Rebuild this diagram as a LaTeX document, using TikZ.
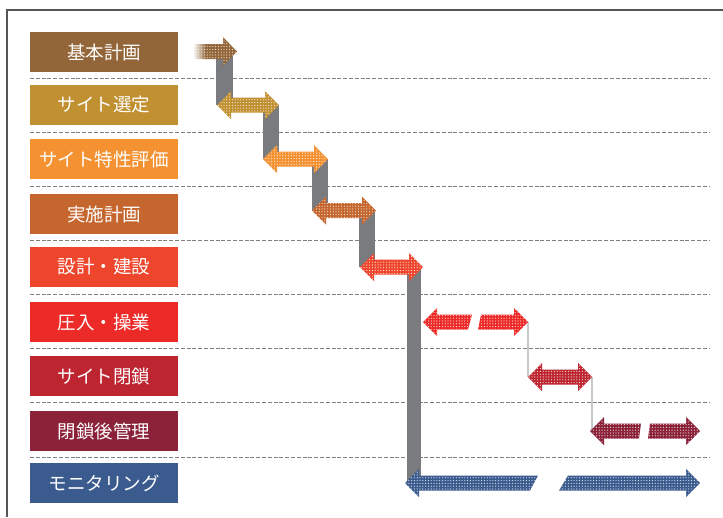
\documentclass[tikz,border=0pt]{standalone}
\usepackage{fontspec}
\newfontfamily\jp{Noto Sans CJK JP}
\usetikzlibrary{patterns.meta,fadings}
\definecolor{c1}{HTML}{93663A}
\definecolor{c2}{HTML}{C09031}
\definecolor{c3}{HTML}{F49131}
\definecolor{c4}{HTML}{C4662E}
\definecolor{c5}{HTML}{EE462D}
\definecolor{c6}{HTML}{EC2A28}
\definecolor{c7}{HTML}{BD2530}
\definecolor{c8}{HTML}{8B2239}
\definecolor{c9}{HTML}{3B5B8F}
\definecolor{band}{HTML}{7A7B7F}
\definecolor{thin}{HTML}{C8C8C8}
\definecolor{frame}{HTML}{555555}
\definecolor{dash}{HTML}{7F7F7F}
\tikzset{
  lab/.style={fill=#1, minimum width=148pt, minimum height=40pt, inner sep=0pt,
    text=white, font=\jp\fontsize{18.5}{18.5}\selectfont},
  arr/.style={fill=#1, postaction={pattern={Dots[distance=2.8pt,radius=0.6pt]}, pattern color=white!85!#1}},
  rowline/.style={draw=dash, line width=0.9pt, dash pattern=on 4pt off 1.8pt},
  bandfill/.style={fill=band},
  thinline/.style={draw=thin, line width=2.5pt},
}
\newcommand\dblarr[4]{%
  \path[arr=#4] (#1,#3) -- (#1+14,#3-14) -- (#1+14,#3-7.5) -- (#2-14,#3-7.5) -- (#2-14,#3-14) -- (#2,#3)
   -- (#2-14,#3+14) -- (#2-14,#3+7.5) -- (#1+14,#3+7.5) -- (#1+14,#3+14) -- cycle;}
\newcommand\leftpart[5]{%
  \path[arr=#5] (#1,#4) -- (#1+14,#4-14) -- (#1+14,#4-7.5) -- (#2,#4-7.5) -- (#3,#4+7.5)
   -- (#1+14,#4+7.5) -- (#1+14,#4+14) -- cycle;}
\newcommand\rightpart[5]{%
  \path[arr=#5] (#1,#4-7.5) -- (#3-14,#4-7.5) -- (#3-14,#4-14) -- (#3,#4) -- (#3-14,#4+14)
   -- (#3-14,#4+7.5) -- (#2,#4+7.5) -- cycle;}
\begin{document}
\begin{tikzpicture}[x=1pt,y=-1pt]
\useasboundingbox (0,0) rectangle (723,517);
\fill[white] (0,0) rectangle (723,517);
% row separators
\foreach \yy in {78,132,186,240,294,348,402,457}
  \draw[rowline] (30,\yy) -- (710,\yy);
% gray bands
\fill[bandfill] (216,52) rectangle (233,105);
\fill[bandfill] (263,105) rectangle (279,159);
\fill[bandfill] (312,159) rectangle (328,210.5);
\fill[bandfill] (359,210.5) rectangle (375,267);
\fill[bandfill] (407,267) rectangle (421,483);
% thin connectors
\draw[thinline] (528,322) -- (528,377);
\draw[thinline] (592,377) -- (592,431);
% arrows
\path[arr=c1] (194,44) -- (223,44) -- (223,37) -- (237,51.5) -- (223,66) -- (223,59) -- (194,59) -- cycle;
\fill[white, path fading=east] (193,43) rectangle (206,60);
\dblarr{217}{279}{105}{c2}
\dblarr{263}{328}{159}{c3}
\dblarr{312}{376}{210.5}{c4}
\dblarr{360}{423}{267}{c5}
\leftpart{423}{472}{468}{322}{c6}
\rightpart{481}{478}{528}{322}{c6}
\dblarr{528}{592}{377}{c7}
\leftpart{590}{641}{639}{431}{c8}
\rightpart{650}{648}{700}{431}{c8}
\leftpart{405}{538}{530}{483}{c9}
\rightpart{568}{559}{700}{483}{c9}
% labels
\node[lab=c1] (l1) at (104,52) {基本計画};
\node[lab=c2] (l2) at (104,105) {サイト選定};
\node[lab=c3] (l3) at (104,159) {サイト特性評価};
\node[lab=c4] (l4) at (104,214) {実施計画};
\node[lab=c5] (l5) at (104,267) {設計・建設};
\node[lab=c6] (l6) at (104,322) {圧入・操業};
\node[lab=c7] (l7) at (104,376) {サイト閉鎖};
\node[lab=c8] (l8) at (104,431) {閉鎖後管理};
\node[lab=c9] (l9) at (104,483) {モニタリング};
% frame
\draw[frame, line width=1.5pt] (7,517) -- (7,10) -- (723,10);
\end{tikzpicture}
\end{document}
